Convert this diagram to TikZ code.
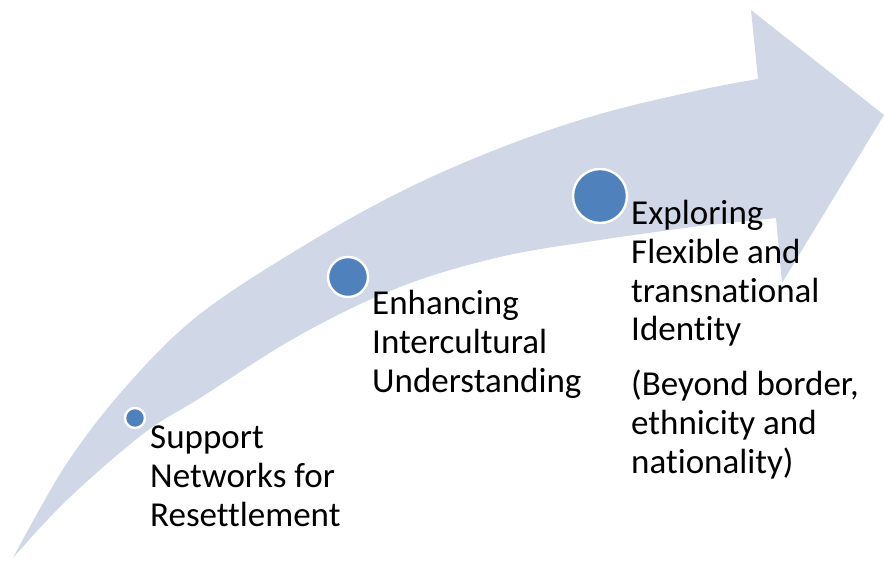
\documentclass[tikz,border=0pt]{standalone}
\usepackage{fontspec}
\setmainfont{Carlito}[Ligatures={NoCommon}]
\definecolor{arrowfill}{HTML}{D0D8E8}
\definecolor{dotblue}{HTML}{4F81BD}
\begin{document}
\begin{tikzpicture}[x=1pt,y=-1pt,
  dot/.style={circle,fill=dotblue,draw=white,line width=2.4pt,inner sep=0pt},
  label/.style={anchor=base west,align=left,inner sep=0pt,
    font=\fontsize{35}{38.7}\selectfont}]
\useasboundingbox (0,0) rectangle (884,561);
% curved arrow band with its head
\fill[arrowfill]
  plot[smooth,tension=0.6] coordinates {(13,558) (67,463) (130,382) (200,314) (300,248) (400,192) (500,148) (600,114) (700,90) (758,79)}
  -- (751,10) -- (884,115) -- (782,283) -- (776,218)
  -- plot[smooth,tension=0.6] coordinates {(700,226) (600,240) (500,257) (400,287) (300,335) (200,398) (143,434) (67,500) (13,558)}
  -- cycle;
% stage markers
\node[dot,minimum size=20pt] (d1) at (135,418) {};
\node[dot,minimum size=40pt] (d2) at (348,277) {};
\node[dot,minimum size=54pt] (d3) at (600,196) {};
% stage labels (anchored at the baseline of the last line)
\node[label] (l1) at (150,526) {Support\\Networks for\\Resettlement};
\node[label] (l2) at (372,392) {Enhancing\\Intercultural\\Understanding};
\node[label] (l3) at (631,473) {Exploring\\Flexible and\\transnational\\Identity\\[16pt](Beyond border,\\ethnicity and\\nationality)};
\end{tikzpicture}
\end{document}
